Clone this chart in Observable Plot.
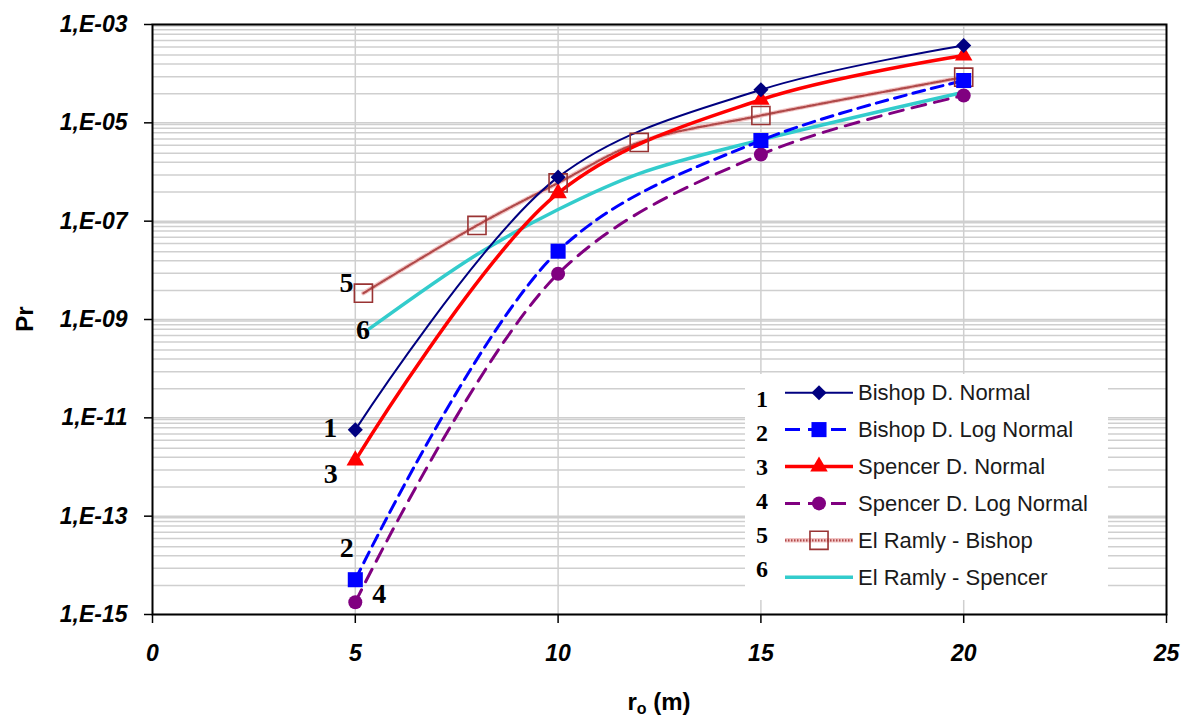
<!DOCTYPE html>
<html><head><meta charset="utf-8">
<script src="https://cdn.jsdelivr.net/npm/d3@7"></script>
<script src="https://cdn.jsdelivr.net/npm/@observablehq/plot@0.6"></script>
<style>
body{margin:0;background:#fff;}
#chart{width:1181px;height:718px;}
</style></head><body><div id="chart"></div>
<script>
// ---- data ----
const rValues = [5, 10, 15, 20];
const bishopNormal = [5.7e-12, 7.85e-7, 4.7e-5, 3.74e-4];
const bishopLogNormal = [5.1e-15, 2.45e-8, 4.37e-6, 7.26e-5];
const spencerNormal = [1.36e-12, 3.7e-7, 2.95e-5, 2.34e-4];
const spencerLogNormal = [1.78e-15, 8.5e-9, 2.27e-6, 3.6e-5];
const elRamlyBishopR = [5.2, 8, 10, 12, 15, 20];
const elRamlyBishop = [3.43e-9, 8.2e-8, 6.0e-7, 4.0e-6, 1.41e-5, 8.5e-5];
const elRamlySpencerR = [5.35, 8, 10, 12, 15, 20];
const elRamlySpencer = [6.5e-10, 2.1e-8, 1.73e-7, 9.3e-7, 4.5e-6, 4.2e-5];
const seriesNames = ["Bishop D. Normal", "Bishop D. Log Normal", "Spencer D. Normal", "Spencer D. Log Normal", "El Ramly - Bishop", "El Ramly - Spencer"];
const seriesNumbers = ["1", "2", "3", "4", "5", "6"];
const xTicks = [0, 5, 10, 15, 20, 25];
const yTicks = [1e-3, 1e-5, 1e-7, 1e-9, 1e-11, 1e-13, 1e-15];
const minorGridFactors = [0.93, 0.78, 0.63, 0.47, 0.35, 0.24, 0.157, 0.087, 0.039];
const xGrid = [5, 10, 15, 20];

// ---- build ----
const seriesR = [rValues, rValues, rValues, rValues, elRamlyBishopR, elRamlySpencerR];
const seriesP = [bishopNormal, bishopLogNormal, spencerNormal, spencerLogNormal, elRamlyBishop, elRamlySpencer];
const styles = [
  {color:"#000080", width:2, dash:null, symbol:"diamond2", r:6.8, fill:"#000080"},
  {color:"#0000FF", width:3, dash:"12,7", symbol:"square", r:8.5, fill:"#0000FF"},
  {color:"#FF0000", width:3.5, dash:null, symbol:"triangle", r:6.5, fill:"#FF0000"},
  {color:"#800080", width:3, dash:"14,9", symbol:"circle", r:7, fill:"#800080"},
  {color:"#b04040", width:4.5, dash:null, symbol:"square", r:10.2, fill:"none", hatch:true, mstroke:"#993333"},
  {color:"#33CCCC", width:3.5, dash:null, symbol:null}
];
const annotOffsets = [[-25,-2],[-8.5,-32],[-24.5,14],[24,-8],[-17,-10],[-6.5,1]];

const data = seriesNames.map((name, i) => seriesR[i].map((r, j) => ({series:name, r, p:seriesP[i][j]})));
const minorGrid = [];
for (let k = 0; k < yTicks.length - 1; k++) for (const f of minorGridFactors) minorGrid.push(yTicks[k] * f);

const hatchBase = "#f2c4c4", hatchDark = "#b04a4a", hatchDash = "1.5,1.5", hatchInner = 2.2;
const marks = [
  Plot.ruleY(minorGrid, {stroke:"#cfcfcf", strokeWidth:1.5}),
  Plot.ruleY(yTicks, {stroke:"#cfcfcf", strokeWidth:1.5}),
  Plot.ruleX(xGrid, {stroke:"#cfcfcf", strokeWidth:1.5}),
];
// lines
[5, 4, 3, 1, 2, 0].forEach(i => {
  const s = styles[i];
  if (s.hatch) {
    marks.push(Plot.line(data[i], {x:"r", y:"p", stroke:hatchBase, strokeWidth:s.width, curve:"catmull-rom"}));
    marks.push(Plot.line(data[i], {x:"r", y:"p", stroke:hatchDark, strokeWidth:hatchInner, strokeDasharray:hatchDash, curve:"catmull-rom"}));
  } else {
    marks.push(Plot.line(data[i], {x:"r", y:"p", stroke:s.color, strokeWidth:s.width, strokeDasharray:s.dash, curve:"catmull-rom"}));
  }
});
// markers
[4, 3, 1, 2, 0].forEach(i => {
  const s = styles[i];
  marks.push(Plot.dot(data[i], {x:"r", y:"p", symbol:()=>s.symbol, r:s.r, fill:s.fill,
    stroke: s.mstroke || "none", strokeWidth: s.mstroke ? 1.6 : 0}));
});
// number annotations anchored at first point of each series
seriesNumbers.forEach((n, i) => {
  marks.push(Plot.text([data[i][0]], {x:"r", y:"p", text:()=>n, dx:annotOffsets[i][0], dy:annotOffsets[i][1],
    fontFamily:"Liberation Serif, Times New Roman, serif", fontWeight:"bold", fontSize:28, fill:"#000"}));
});
marks.push(Plot.frame({stroke:"#000", strokeWidth:2}));
const fmt = d => { const e = Math.round(Math.log10(d)); return "1,E" + (e < 0 ? "-" : "+") + String(Math.abs(e)).padStart(2, "0"); };
marks.push(Plot.axisY({ticks:yTicks, tickFormat:fmt, tickSize:8, tickPadding:17, fontSize:23, fontWeight:"bold", fontStyle:"italic", strokeWidth:1.5, label:null}));
marks.push(Plot.axisX({ticks:xTicks, tickFormat:d=>String(d), tickSize:9, tickPadding:21, fontSize:23, fontWeight:"bold", fontStyle:"italic", strokeWidth:1.5, label:null}));

const chart = Plot.plot({
  width:1181, height:718,
  marginLeft:152, marginRight:15, marginTop:24, marginBottom:104,
  style:{fontFamily:"Liberation Sans, Arial, sans-serif", background:"#fff", color:"#000", overflow:"visible"},
  x:{domain:[0,25]},
  y:{type:"log", domain:[1e-15, 1e-3]},
  marks
});
document.getElementById("chart").appendChild(chart);

// axis titles
const svg = d3.select(chart);
const xl = svg.append("text").attr("x", 659).attr("y", 710).attr("text-anchor", "middle")
  .attr("font-family", "Liberation Sans, Arial, sans-serif").attr("font-weight", "bold").attr("font-size", 24).attr("fill", "#000");
xl.append("tspan").text("r");
xl.append("tspan").attr("font-size", 16).attr("dy", 4).text("o");
xl.append("tspan").attr("dy", -4).text(" (m)");
svg.append("text").attr("transform", "translate(33,319) rotate(-90)").attr("text-anchor", "middle")
  .attr("font-family", "Liberation Sans, Arial, sans-serif").attr("font-weight", "bold").attr("font-size", 24).attr("fill", "#000").text("Pr");

// legend
const lg = svg.append("g");
lg.append("rect").attr("x", 745).attr("y", 374).attr("width", 363).attr("height", 226).attr("fill", "#fff");
const symMap = {diamond2:d3.symbolDiamond2, square:d3.symbolSquare, triangle:d3.symbolTriangle, circle:d3.symbolCircle};
seriesNames.forEach((name, i) => {
  const s = styles[i];
  const y = 392.7 + i * 36.9;
  lg.append("text").attr("x", 762).attr("y", 399 + i * 34).attr("text-anchor", "middle").attr("dominant-baseline", "central")
    .attr("font-family", "Liberation Serif, Times New Roman, serif").attr("font-weight", "bold").attr("font-size", 24).attr("fill", "#000").text(seriesNumbers[i]);
  if (s.hatch) {
    lg.append("line").attr("x1", 785).attr("x2", 853).attr("y1", y).attr("y2", y).attr("stroke", hatchBase).attr("stroke-width", s.width);
    lg.append("line").attr("x1", 785).attr("x2", 853).attr("y1", y).attr("y2", y).attr("stroke", hatchDark).attr("stroke-width", hatchInner).attr("stroke-dasharray", hatchDash);
  } else {
    lg.append("line").attr("x1", 785).attr("x2", 853).attr("y1", y).attr("y2", y).attr("stroke", s.color).attr("stroke-width", s.width)
      .attr("stroke-dasharray", s.dash ? "15,8" : null);
  }
  if (s.symbol) {
    lg.append("path").attr("transform", `translate(819,${y})`)
      .attr("d", d3.symbol(symMap[s.symbol], Math.PI * s.r * s.r)())
      .attr("fill", s.fill).attr("stroke", s.mstroke || "none").attr("stroke-width", s.mstroke ? 1.6 : 0);
  }
  lg.append("text").attr("x", 858).attr("y", y).attr("text-anchor", "start").attr("dominant-baseline", "central")
    .attr("font-family", "Liberation Sans, Arial, sans-serif").attr("font-size", 22).attr("fill", "#1a1a1a").text(name);
});
</script></body></html>
